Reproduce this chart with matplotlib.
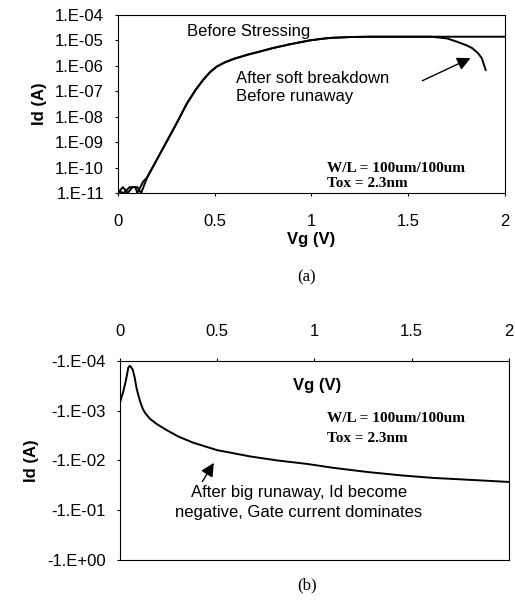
import matplotlib
matplotlib.use('Agg')
import matplotlib.pyplot as plt

plt.rcParams['font.family'] = ['Liberation Sans', 'DejaVu Sans']

# (a) Id-Vg, log scale
vg_before = [0, 0.025, 0.05, 0.075, 0.10, 0.12, 0.15, 0.20, 0.25, 0.30, 0.355, 0.40, 0.44,
             0.475, 0.51, 0.55, 0.60, 0.67, 0.73, 0.80, 0.89, 0.99, 1.05, 1.10, 1.20, 1.30,
             1.60, 1.80, 2.0]
id_before = [1e-11, 1.7e-11, 1e-11, 1.7e-11, 1.7e-11, 1e-11, 4.0e-11, 2.0e-10, 1.0e-9, 5.0e-9,
             3.2e-8, 1.1e-7, 2.8e-7, 5.6e-7, 9.3e-7, 1.35e-6, 1.9e-6, 2.75e-6, 3.6e-6, 5.0e-6,
             7.1e-6, 1.0e-5, 1.15e-5, 1.26e-5, 1.36e-5, 1.4e-5, 1.4e-5, 1.4e-5, 1.4e-5]

vg_after = [0, 0.03, 0.06, 0.09, 0.10, 0.13, 0.15, 0.20, 0.25, 0.30, 0.355, 0.40, 0.44,
            0.475, 0.51, 0.55, 0.60, 0.67, 0.73, 0.80, 0.89, 0.99, 1.05, 1.10, 1.20, 1.30,
            1.62, 1.70, 1.75, 1.80, 1.83, 1.86, 1.88, 1.90]
id_after = [1.2e-11, 1e-11, 1.7e-11, 1.7e-11, 1e-11, 2.8e-11, 4.0e-11, 2.0e-10, 1.0e-9, 5.0e-9,
            3.2e-8, 1.1e-7, 2.8e-7, 5.6e-7, 9.3e-7, 1.35e-6, 1.9e-6, 2.75e-6, 3.6e-6, 5.0e-6,
            7.1e-6, 1.0e-5, 1.15e-5, 1.26e-5, 1.36e-5, 1.4e-5, 1.4e-5, 1.2e-5, 9.0e-6, 6.5e-6,
            5.0e-6, 3.2e-6, 2.0e-6, 6.9e-7]

yticks_a = [1e-11, 1e-10, 1e-9, 1e-8, 1e-7, 1e-6, 1e-5, 1e-4]
ylabels_a = ['1.E-11', '1.E-10', '1.E-09', '1.E-08', '1.E-07', '1.E-06', '1.E-05', '1.E-04']

# (b) after big runaway, Id negative
vg_run = [0, 0.017, 0.03, 0.043, 0.05, 0.055, 0.065, 0.075, 0.085, 0.095, 0.105, 0.118, 0.13,
          0.154, 0.19, 0.24, 0.30, 0.377, 0.50, 0.67, 0.81, 0.96, 1.10, 1.27, 1.45, 1.61, 1.80, 2.0]
id_run = [-6.8e-4, -4.1e-4, -2.5e-4, -1.35e-4, -1.26e-4, -1.29e-4, -1.48e-4, -2.1e-4, -3.5e-4,
          -5.0e-4, -6.8e-4, -9.3e-4, -1.12e-3, -1.45e-3, -1.86e-3, -2.45e-3, -3.3e-3, -4.4e-3,
          -6.2e-3, -8.3e-3, -1.0e-2, -1.17e-2, -1.41e-2, -1.7e-2, -2.0e-2, -2.24e-2, -2.45e-2,
          -2.7e-2]

yticks_b = [1e-4, 1e-3, 1e-2, 1e-1, 1e0]
ylabels_b = ['-1.E-04', '-1.E-03', '-1.E-02', '-1.E-01', '-1.E+00']

xticks = [0, 0.5, 1, 1.5, 2]
xlabels = ['0', '0.5', '1', '1.5', '2']

fig = plt.figure(figsize=(5.15, 6.1), dpi=100)
ax1 = fig.add_axes([0.2291, 0.6836, 0.7515, 0.2918])
ax2 = fig.add_axes([0.2330, 0.0820, 0.7553, 0.3262])

times = dict(family=['Liberation Serif', 'DejaVu Serif'], fontweight='bold', fontsize=11)

# ---- panel (a)
ax1.plot(vg_before, id_before, 'k-', lw=1.4)
ax1.plot(vg_after, id_after, 'k-', lw=1.4)
ax1.set_yscale('log')
ax1.set_xlim(0, 2)
ax1.set_ylim(1e-11, 1e-4)
ax1.set_yticks(yticks_a)
ax1.set_yticklabels(ylabels_a)
ax1.minorticks_off()
ax1.set_xticks(xticks)
ax1.set_xticklabels(xlabels)
ax1.tick_params(axis='y', direction='out', length=2, pad=8, labelsize=12)
ax1.tick_params(axis='x', direction='out', length=2, pad=13, labelsize=12)
ax1.set_xlabel('Vg (V)', fontsize=12, fontweight='bold', labelpad=2)
ax1.set_ylabel('Id (A)', fontsize=12, fontweight='bold', labelpad=6)

ax1.text(0.178, 0.91, 'Before Stressing', transform=ax1.transAxes, fontsize=12, va='center')
ax1.text(0.305, 0.646, 'After soft breakdown', transform=ax1.transAxes, fontsize=12, va='center')
ax1.text(0.305, 0.54, 'Before runaway', transform=ax1.transAxes, fontsize=12, va='center')
ax1.annotate('', xy=(1.835, 10 ** -5.65), xytext=(1.56, 10 ** -6.63),
             arrowprops=dict(arrowstyle='-|>', color='k', lw=1, mutation_scale=20))
ax1.text(0.54, 0.14, 'W/L = 100um/100um', transform=ax1.transAxes, va='center', **times)
ax1.text(0.54, 0.055, 'Tox = 2.3nm', transform=ax1.transAxes, va='center', **times)

# ---- panel (b)
ax2.plot(vg_run, [-v for v in id_run], 'k-', lw=1.4)
ax2.set_yscale('log')
ax2.set_xlim(0, 2)
ax2.set_ylim(1e0, 1e-4)
ax2.set_yticks(yticks_b)
ax2.set_yticklabels(ylabels_b)
ax2.minorticks_off()
ax2.xaxis.tick_top()
ax2.set_xticks(xticks)
ax2.set_xticklabels(xlabels)
ax2.tick_params(axis='y', direction='out', length=2, pad=8, labelsize=12)
ax2.tick_params(axis='x', direction='out', length=2, pad=14, labelsize=12)
ax2.set_ylabel('Id (A)', fontsize=12, fontweight='bold', labelpad=6)

ax2.text(0.506, 0.879, 'Vg (V)', transform=ax2.transAxes, fontsize=12, fontweight='bold',
         ha='center', va='center')
ax2.text(0.532, 0.709, 'W/L = 100um/100um', transform=ax2.transAxes, va='center', **times)
ax2.text(0.532, 0.613, 'Tox = 2.3nm', transform=ax2.transAxes, va='center', **times)
ax2.text(0.46, 0.337, 'After big runaway, Id become', transform=ax2.transAxes, fontsize=12,
         ha='center', va='center')
ax2.text(0.46, 0.241, 'negative, Gate current dominates', transform=ax2.transAxes, fontsize=12,
         ha='center', va='center')
ax2.annotate('', xy=(0.49, 10 ** -2.0), xytext=(0.416, 10 ** -1.53),
             arrowprops=dict(arrowstyle='-|>', color='k', lw=1, mutation_scale=20))

fig.text(0.596, 0.546, '(a)', family=['Liberation Serif', 'DejaVu Serif'], fontsize=12,
         ha='center', va='center')
fig.text(0.596, 0.041, '(b)', family=['Liberation Serif', 'DejaVu Serif'], fontsize=12,
         ha='center', va='center')

fig.savefig('out.png', dpi=100)
